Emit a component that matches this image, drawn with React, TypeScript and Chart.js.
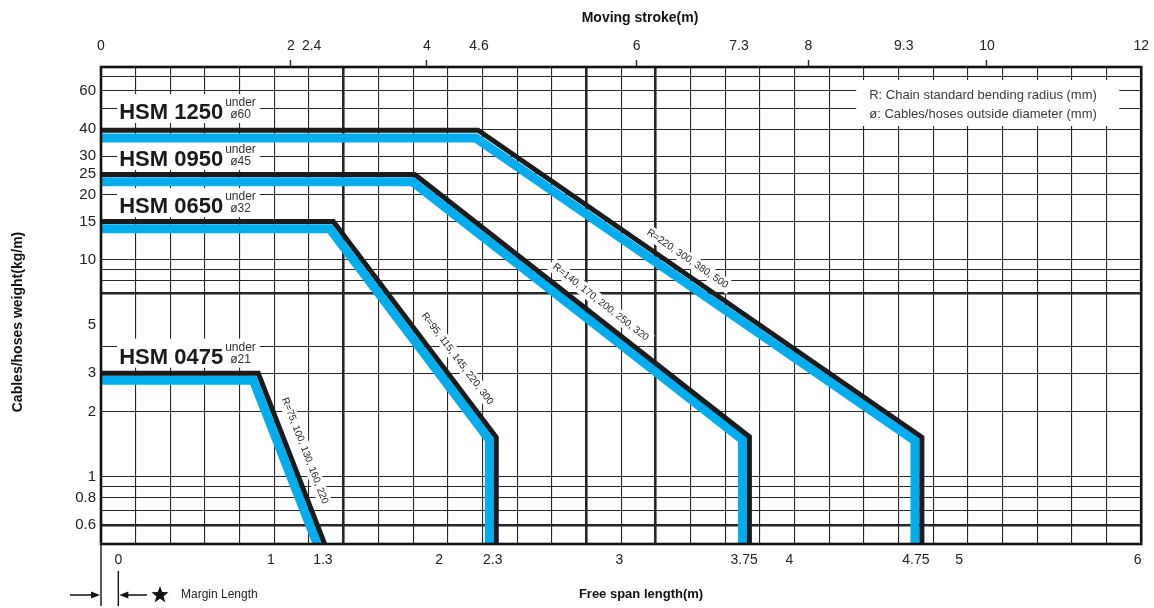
import { useEffect, useRef } from 'react';
import { Chart, registerables } from 'chart.js';

Chart.register(...registerables);

const FONT = '"Liberation Sans", Arial, Helvetica, sans-serif';

// ---------- data: x = free span length (m), y = cables/hoses weight (kg/m) ----------
const seriesNames = ['HSM 1250', 'HSM 0950', 'HSM 0650', 'HSM 0475'];
const seriesDiameters = ['ø60', 'ø45', 'ø32', 'ø21'];
const radiusNotes = [
  'R=220, 300, 380, 500',
  'R=140, 170, 200, 250, 320',
  'R=95, 115, 145, 220, 300',
  'R=75, 100, 130, 160, 220',
];

// black limit lines
const hsm1250LimitX = [0, 2.175, 4.735, 4.735];
const hsm1250LimitY = [39.5, 39.5, 1.52, 0.49];
const hsm0950LimitX = [0, 1.81, 3.74, 3.74];
const hsm0950LimitY = [24.7, 24.7, 1.53, 0.49];
const hsm0650LimitX = [0, 1.34, 2.28, 2.28];
const hsm0650LimitY = [15, 15, 1.52, 0.49];
const hsm0475LimitX = [0, 0.907, 1.29];
const hsm0475LimitY = [3.0, 3.0, 0.49];

// blue bands
const hsm1250BandX = [0, 2.162, 4.695, 4.695];
const hsm1250BandY = [36.4, 36.4, 1.465, 0.49];
const hsm0950BandX = [0, 1.796, 3.7, 3.7];
const hsm0950BandY = [22.9, 22.9, 1.48, 0.49];
const hsm0650BandX = [0, 1.32, 2.24, 2.24];
const hsm0650BandY = [13.9, 13.9, 1.48, 0.49];
const hsm0475BandX = [0, 0.878, 1.247];
const hsm0475BandY = [2.785, 2.785, 0.49];

// label anchors (data units)
const nameLabelX = [0.105, 0.105, 0.105, 0.105];
const nameLabelY = [44.5, 27.1, 16.4, 3.32];
const radiusLabelX = [3.383, 2.882, 2.055, 1.176];
const radiusLabelY = [10.1, 6.37, 3.5, 1.318];

// axes
const spanLabels = ['0', '1', '1.3', '2', '2.3', '3', '3.75', '4', '4.75', '5', '6'];
const spanLabelAt = [0.1, 0.98, 1.28, 1.95, 2.26, 2.99, 3.71, 3.97, 4.7, 4.95, 5.98];
const spanGridStep = 0.2;
const spanThickValues = [1.4, 2.8, 3.2];

const strokeLabels = ['0', '2', '2.4', '4', '4.6', '6', '7.3', '8', '9.3', '10', '12'];
const strokeLabelAt = [0, 1.095, 1.215, 1.88, 2.18, 3.09, 3.68, 4.08, 4.63, 5.11, 6.0];
const strokeMarked = [false, true, false, true, false, true, false, true, false, true, false];

const weightLabels = [0.6, 0.8, 1, 2, 3, 5, 10, 15, 20, 25, 30, 40, 60];
const weightGridValues = [0.6, 0.7, 0.8, 0.9, 1, 2, 3, 4, 7, 8, 9, 10, 15, 20, 25, 30, 40, 50, 60, 70];
const weightThickValues = [0.6, 7];

const legendLines = ['R: Chain standard bending radius (mm)', 'ø: Cables/hoses outside diameter (mm)'];

const LIMIT = '#1b1b1b';
const BAND = '#00aeef';
const GRID = '#262626';
const CLEAR = 'rgba(0,0,0,0)';

const zip = (xs: number[], ys: number[]) => xs.map((x, i) => ({ x, y: ys[i] }));

export default function App() {
  const ref = useRef<HTMLCanvasElement>(null);

  useEffect(() => {
    const canvas = ref.current;
    if (!canvas) return;

    const limits = [
      [hsm1250LimitX, hsm1250LimitY],
      [hsm0950LimitX, hsm0950LimitY],
      [hsm0650LimitX, hsm0650LimitY],
      [hsm0475LimitX, hsm0475LimitY],
    ];
    const bands = [
      [hsm1250BandX, hsm1250BandY],
      [hsm0950BandX, hsm0950BandY],
      [hsm0650BandX, hsm0650BandY],
      [hsm0475BandX, hsm0475BandY],
    ];

    const datasets: any[] = [];
    seriesNames.forEach((name, i) => {
      datasets.push({
        label: name,
        data: zip(limits[i][0], limits[i][1]),
        borderColor: LIMIT,
        borderWidth: 5,
        order: 0,
        pointRadius: 0,
        tension: 0,
        borderJoinStyle: 'miter',
        borderCapStyle: 'butt',
        fill: false,
      });
      datasets.push({
        label: name + ' band',
        data: zip(bands[i][0], bands[i][1]),
        borderColor: BAND,
        borderWidth: 9,
        order: 1,
        pointRadius: 0,
        tension: 0,
        borderJoinStyle: 'miter',
        borderCapStyle: 'butt',
        fill: false,
      });
    });

    const annotate = {
      id: 'annotate',
      beforeDatasetsDraw(chart: any) {
        const { ctx, chartArea: a, scales } = chart;
        const xs = scales.x;
        const ys = scales.y;
        ctx.save();

        // legend box (upper right)
        ctx.fillStyle = '#fff';
        ctx.fillRect(a.right - 285, a.top + 13, 263, 46);
        ctx.fillStyle = '#3a3a3a';
        ctx.font = `13px ${FONT}`;
        ctx.textAlign = 'left';
        ctx.textBaseline = 'middle';
        ctx.fillText(legendLines[0], a.right - 272, a.top + 28);
        ctx.fillText(legendLines[1], a.right - 272, a.top + 47);

        // series names
        seriesNames.forEach((name, i) => {
          const x = xs.getPixelForValue(nameLabelX[i]);
          const b = ys.getPixelForValue(nameLabelY[i]);
          ctx.font = `bold 22px ${FONT}`;
          const w = ctx.measureText(name).width;
          ctx.font = `12px ${FONT}`;
          const w2 = Math.max(ctx.measureText('under').width, ctx.measureText(seriesDiameters[i]).width + 5);
          ctx.fillStyle = '#fff';
          ctx.fillRect(x - 2, b - 25, w + w2 + 8, 29);
          ctx.fillStyle = '#1a1a1a';
          ctx.textBaseline = 'alphabetic';
          ctx.textAlign = 'left';
          ctx.font = `bold 22px ${FONT}`;
          ctx.fillText(name, x, b);
          ctx.font = `12px ${FONT}`;
          ctx.fillStyle = '#333';
          ctx.fillText('under', x + w + 2, b - 13);
          ctx.fillText(seriesDiameters[i], x + w + 7, b - 1);
        });

        // bending radius notes along the slopes
        radiusNotes.forEach((txt, i) => {
          const [lx, ly] = limits[i];
          const p1x = xs.getPixelForValue(lx[1]);
          const p1y = ys.getPixelForValue(ly[1]);
          const p2x = xs.getPixelForValue(lx[2]);
          const p2y = ys.getPixelForValue(ly[2]);
          const ang = Math.atan2(p2y - p1y, p2x - p1x);
          const cx = xs.getPixelForValue(radiusLabelX[i]);
          const cy = ys.getPixelForValue(radiusLabelY[i]);
          ctx.save();
          ctx.translate(cx, cy);
          ctx.rotate(ang);
          ctx.font = `10px ${FONT}`;
          const w = ctx.measureText(txt).width;
          ctx.fillStyle = '#fff';
          ctx.fillRect(-w / 2 - 4, -7, w + 8, 14);
          ctx.fillStyle = '#222';
          ctx.textAlign = 'center';
          ctx.textBaseline = 'middle';
          ctx.fillText(txt, 0, 0);
          ctx.restore();
        });
        ctx.restore();
      },
      afterDatasetsDraw(chart: any) {
        const { ctx, chartArea: a } = chart;
        ctx.save();
        ctx.strokeStyle = '#111';
        ctx.lineWidth = 2.6;
        ctx.strokeRect(a.left, a.top, a.right - a.left, a.bottom - a.top);
        ctx.restore();
      },
      afterDraw(chart: any) {
        const { ctx, chartArea: a, scales } = chart;
        const xs = scales.x;
        ctx.save();
        ctx.fillStyle = '#111';
        ctx.textAlign = 'center';
        ctx.textBaseline = 'middle';
        ctx.font = `bold 14px ${FONT}`;
        ctx.fillText('Moving stroke(m)', 640, 18);
        ctx.font = `bold 13px ${FONT}`;
        ctx.fillText('Free span length(m)', 641, 594);
        ctx.save();
        ctx.translate(18, 322);
        ctx.rotate(-Math.PI / 2);
        ctx.font = `bold 14px ${FONT}`;
        ctx.fillText('Cables/hoses weight(kg/m)', 0, 0);
        ctx.restore();

        // margin length marker
        const y = 595;
        const x0 = a.left;
        const xm = xs.getPixelForValue(spanLabelAt[0]);
        ctx.strokeStyle = '#111';
        ctx.lineWidth = 1.4;
        ctx.beginPath();
        ctx.moveTo(x0, a.bottom);
        ctx.lineTo(x0, 606);
        ctx.moveTo(xm, 571);
        ctx.lineTo(xm, 606);
        ctx.moveTo(70, y);
        ctx.lineTo(x0 - 6, y);
        ctx.moveTo(xm + 6, y);
        ctx.lineTo(147, y);
        ctx.stroke();
        ctx.beginPath();
        ctx.moveTo(x0 - 1, y);
        ctx.lineTo(x0 - 10, y - 3.5);
        ctx.lineTo(x0 - 10, y + 3.5);
        ctx.closePath();
        ctx.fill();
        ctx.beginPath();
        ctx.moveTo(xm + 1, y);
        ctx.lineTo(xm + 10, y - 3.5);
        ctx.lineTo(xm + 10, y + 3.5);
        ctx.closePath();
        ctx.fill();
        // star
        const sx = 160;
        const R = 9;
        const r = 3.8;
        ctx.beginPath();
        for (let k = 0; k < 10; k++) {
          const rad = k % 2 === 0 ? R : r;
          const t = -Math.PI / 2 + (k * Math.PI) / 5;
          const px = sx + rad * Math.cos(t);
          const py = y + rad * Math.sin(t);
          if (k === 0) ctx.moveTo(px, py);
          else ctx.lineTo(px, py);
        }
        ctx.closePath();
        ctx.fill();
        ctx.font = `12px ${FONT}`;
        ctx.textAlign = 'left';
        ctx.fillStyle = '#222';
        ctx.fillText('Margin Length', 181, y);
        ctx.restore();
      },
    };

    const chart = new Chart(canvas, {
      type: 'line',
      data: { datasets },
      plugins: [annotate],
      options: {
        animation: false,
        responsive: true,
        maintainAspectRatio: false,
        events: [],
        layout: { padding: { left: 0, right: 12, top: 0, bottom: 0 } },
        plugins: { legend: { display: false }, tooltip: { enabled: false } },
        scales: {
          x: {
            type: 'linear',
            position: 'bottom',
            min: 0,
            max: 6,
            border: { display: false },
            afterBuildTicks: (scale: any) => {
              const ticks: any[] = [];
              for (let k = 1; k < 30; k++) {
                const v = Math.round(k * spanGridStep * 1000) / 1000;
                ticks.push({ value: v, grid: true, thick: spanThickValues.includes(v), text: '' });
              }
              spanLabelAt.forEach((v, i) => ticks.push({ value: v, grid: false, thick: false, text: spanLabels[i] }));
              ticks.sort((p, q) => p.value - q.value);
              scale.ticks = ticks;
            },
            afterFit: (scale: any) => {
              scale.height = 64;
            },
            grid: {
              drawTicks: false,
              color: (c: any) => (c.tick && c.tick.grid ? GRID : CLEAR),
              lineWidth: (c: any) => (c.tick && c.tick.thick ? 2.6 : 1.1),
            },
            ticks: {
              autoSkip: false,
              maxRotation: 0,
              minRotation: 0,
              padding: 8,
              color: '#222',
              font: { family: FONT, size: 14 },
              callback: (_v: any, i: number, t: any[]) => (t[i] && t[i].text) || '',
            },
          },
          x2: {
            type: 'linear',
            position: 'top',
            min: 0,
            max: 6,
            border: { display: false },
            afterBuildTicks: (scale: any) => {
              scale.ticks = strokeLabelAt.map((v, i) => ({ value: v, text: strokeLabels[i], mark: strokeMarked[i] }));
            },
            afterFit: (scale: any) => {
              scale.height = 67;
            },
            grid: {
              drawOnChartArea: false,
              drawTicks: true,
              tickLength: 7,
              tickWidth: 1.4,
              tickColor: (c: any) => (c.tick && c.tick.mark ? GRID : CLEAR),
            },
            ticks: {
              autoSkip: false,
              maxRotation: 0,
              minRotation: 0,
              padding: 5,
              color: '#222',
              font: { family: FONT, size: 14 },
              callback: (_v: any, i: number, t: any[]) => (t[i] && t[i].text) || '',
            },
          },
          y: {
            type: 'logarithmic',
            position: 'left',
            min: 0.49,
            max: 77.3,
            bounds: 'data',
            border: { display: false },
            afterBuildTicks: (scale: any) => {
              const vals = Array.from(new Set([...weightGridValues, ...weightLabels])).sort((p, q) => p - q);
              scale.ticks = vals.map((v) => ({
                value: v,
                grid: weightGridValues.includes(v),
                thick: weightThickValues.includes(v),
                text: weightLabels.includes(v) ? String(v) : '',
              }));
            },
            afterFit: (scale: any) => {
              scale.width = 101;
            },
            grid: {
              drawTicks: false,
              color: (c: any) => (c.tick && c.tick.grid ? GRID : CLEAR),
              lineWidth: (c: any) => (c.tick && c.tick.thick ? 2.6 : 1.1),
            },
            ticks: {
              autoSkip: false,
              padding: 5,
              color: '#222',
              font: { family: FONT, size: 15 },
              callback: (_v: any, i: number, t: any[]) => (t[i] && t[i].text) || '',
            },
          },
        },
      } as any,
    });

    return () => chart.destroy();
  }, []);

  return (
    <div style={{ position: 'fixed', left: 0, top: 0, width: 1154, height: 608, background: '#fff' }}>
      <canvas ref={ref} />
    </div>
  );
}
